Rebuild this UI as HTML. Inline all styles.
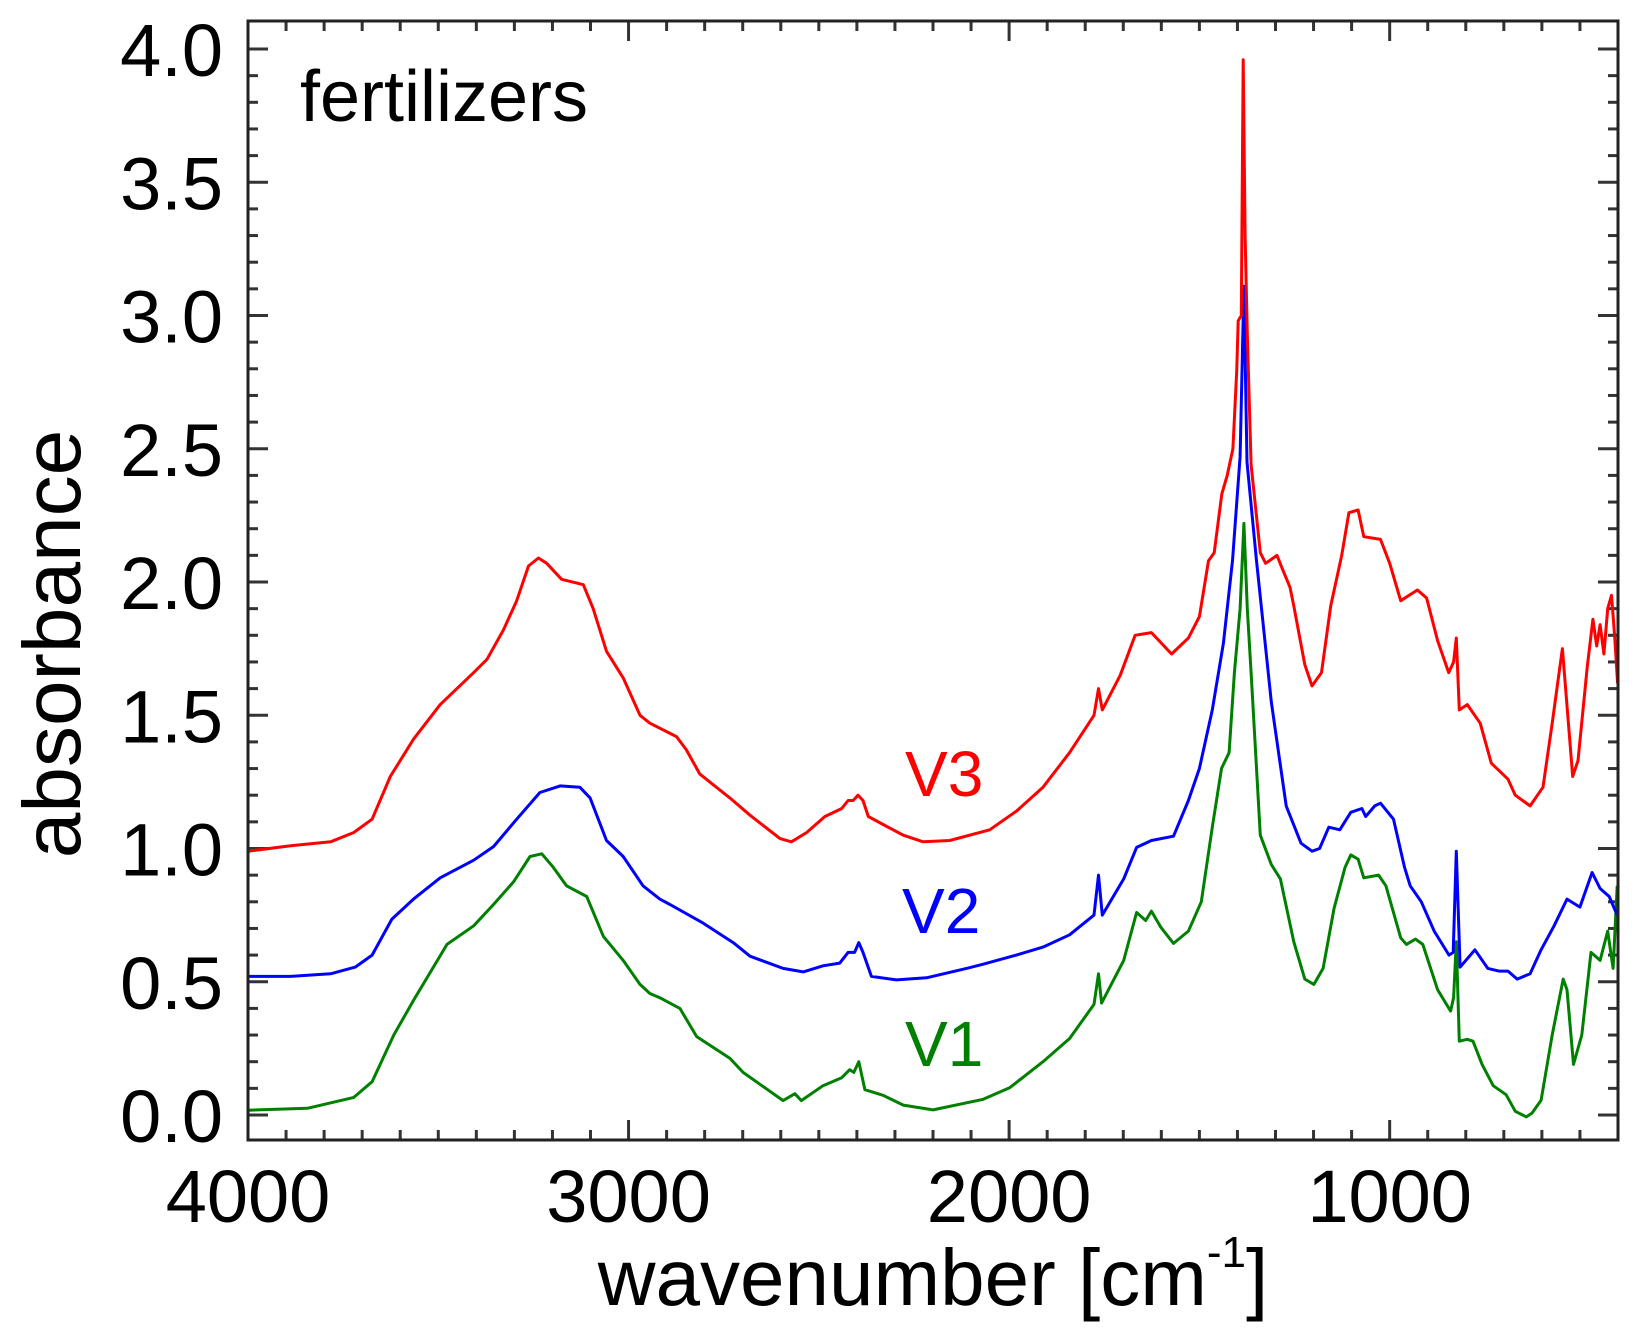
<!DOCTYPE html>
<html><head><meta charset="utf-8"><style>
html,body{margin:0;padding:0;background:#fff;}
svg{display:block;font-family:"Liberation Sans",Arial,sans-serif;}
</style></head><body>
<svg id="chart" width="1642" height="1337" viewBox="0 0 1642 1337">
<g id="grid-layer"></g>
<g id="series-layer"></g>
<rect x="248" y="21" width="1370" height="1119" fill="none" stroke="#222" stroke-width="3"/>
<text x="300" y="121" font-size="72" fill="#000">fertilizers</text>
<text x="905" y="796" font-size="64" fill="#ff0000">V3</text>
<text x="902" y="933" font-size="64" fill="#0000ff">V2</text>
<text x="905" y="1066" font-size="64" fill="#008000">V1</text>
<text x="933" y="1305" font-size="80" text-anchor="middle" fill="#000">wavenumber [cm<tspan dy="-38" font-size="44">-1</tspan><tspan dy="38">]</tspan></text>
<text transform="translate(80,644) rotate(-90)" font-size="82" text-anchor="middle" fill="#000">absorbance</text>
</svg>
<script>
const xTickValues = [4000, 3000, 2000, 1000];
const yTickValues = [0.0, 0.5, 1.0, 1.5, 2.0, 2.5, 3.0, 3.5, 4.0];
const v3Wn = [4000,3888,3783,3722,3674,3626,3565,3495,3407,3372,3329,3294,3263,3237,3215,3176,3119,3093,3058,3014,2970,2944,2874,2848,2813,2734,2681,2602,2572,2532,2484,2440,2423,2410,2397,2384,2370,2331,2278,2226,2156,2051,1981,1911,1841,1777,1765,1755,1708,1669,1626,1573,1529,1500,1476,1461,1441,1427,1412,1402,1398,1390,1385,1380,1374,1364,1340,1326,1296,1282,1262,1252,1223,1204,1179,1155,1126,1107,1083,1068,1024,1000,971,927,903,874,845,832,825,817,796,762,733,689,670,631,597,573,546,519,505,481,466,456,447,437,427,417,409,401];
const v3Abs = [0.99,1.01,1.025,1.06,1.11,1.27,1.41,1.54,1.66,1.71,1.82,1.93,2.06,2.09,2.07,2.01,1.99,1.90,1.74,1.64,1.50,1.47,1.42,1.37,1.28,1.19,1.125,1.037,1.025,1.06,1.12,1.15,1.18,1.18,1.2,1.18,1.12,1.09,1.05,1.025,1.03,1.07,1.14,1.23,1.36,1.50,1.60,1.52,1.65,1.80,1.81,1.73,1.79,1.87,2.08,2.11,2.33,2.40,2.50,2.79,2.98,3.0,3.96,3.3,2.93,2.44,2.11,2.07,2.10,2.05,1.98,1.91,1.69,1.61,1.66,1.91,2.1,2.26,2.27,2.17,2.16,2.07,1.93,1.97,1.94,1.78,1.66,1.70,1.79,1.52,1.54,1.47,1.32,1.26,1.20,1.16,1.23,1.47,1.75,1.27,1.33,1.68,1.86,1.76,1.84,1.73,1.90,1.95,1.80,1.62];
const v2Wn = [4000,3888,3783,3718,3674,3622,3565,3495,3407,3355,3294,3233,3180,3128,3101,3058,3014,2962,2918,2891,2804,2725,2681,2594,2541,2489,2445,2423,2406,2395,2384,2362,2296,2217,2112,2068,1981,1911,1841,1777,1765,1755,1699,1665,1626,1568,1529,1500,1466,1437,1413,1393,1383,1375,1350,1311,1272,1233,1204,1184,1160,1131,1102,1073,1063,1039,1024,990,961,946,917,883,844,833,825,815,776,742,713,689,665,631,602,568,534,500,468,447,423,402];
const v2Abs = [0.52,0.52,0.53,0.555,0.60,0.735,0.81,0.89,0.956,1.007,1.11,1.21,1.235,1.23,1.19,1.03,0.97,0.86,0.81,0.79,0.72,0.647,0.596,0.55,0.537,0.56,0.57,0.61,0.61,0.647,0.61,0.52,0.507,0.515,0.55,0.566,0.60,0.63,0.676,0.75,0.90,0.75,0.886,1.004,1.03,1.046,1.18,1.30,1.52,1.77,2.08,2.47,3.11,2.45,2.08,1.55,1.16,1.02,0.99,1.0,1.08,1.07,1.136,1.15,1.12,1.16,1.17,1.11,0.93,0.86,0.80,0.69,0.60,0.61,0.99,0.555,0.62,0.55,0.54,0.54,0.51,0.53,0.62,0.71,0.81,0.78,0.91,0.85,0.82,0.75];
const v1Wn = [4000,3844,3722,3674,3617,3565,3477,3407,3355,3302,3259,3228,3198,3163,3110,3066,3014,2970,2944,2918,2865,2821,2734,2699,2594,2563,2546,2489,2440,2419,2408,2395,2379,2331,2278,2200,2068,1998,1911,1841,1777,1765,1757,1699,1665,1641,1626,1602,1568,1529,1495,1466,1442,1422,1408,1393,1383,1374,1364,1340,1311,1287,1252,1223,1199,1175,1146,1117,1102,1083,1068,1029,1010,971,956,932,913,874,840,832,825,817,796,781,757,728,694,670,641,626,602,573,544,534,517,495,471,447,427,413,402];
const v1Abs = [0.018,0.025,0.066,0.125,0.30,0.43,0.64,0.71,0.79,0.875,0.97,0.98,0.93,0.86,0.82,0.67,0.58,0.49,0.456,0.44,0.40,0.294,0.213,0.16,0.054,0.08,0.054,0.11,0.14,0.17,0.16,0.2,0.095,0.074,0.037,0.019,0.059,0.103,0.2,0.287,0.415,0.53,0.42,0.58,0.76,0.73,0.765,0.706,0.644,0.69,0.80,1.08,1.30,1.36,1.66,1.90,2.22,1.9,1.66,1.05,0.94,0.886,0.65,0.51,0.49,0.55,0.776,0.93,0.976,0.96,0.89,0.90,0.86,0.665,0.64,0.66,0.64,0.47,0.39,0.44,0.65,0.277,0.284,0.277,0.19,0.11,0.076,0.014,-0.007,0.007,0.055,0.30,0.51,0.47,0.19,0.30,0.61,0.58,0.69,0.55,0.86];

const NS = 'http://www.w3.org/2000/svg';
const L = 248, R = 1618, T = 21, B = 1140;
const WN0 = 4000, WN1 = 400;
const Y0 = 1115, YPER = 266.5;
function xs(w){ return L + (WN0 - w) * (R - L) / (WN0 - WN1); }
function ys(a){ return Y0 - a * YPER; }

const grid = document.getElementById('grid-layer');
function line(x1,y1,x2,y2,w){
  const l = document.createElementNS(NS,'line');
  l.setAttribute('x1',x1); l.setAttribute('y1',y1); l.setAttribute('x2',x2); l.setAttribute('y2',y2);
  l.setAttribute('stroke','#333'); l.setAttribute('stroke-width',w);
  
  
  grid.appendChild(l);
}
for (let w = 3900; w > WN1; w -= 100) {
  const major = w % 1000 === 0;
  const len = major ? 20 : 10;
  line(xs(w), B, xs(w), B - len, 3);
  line(xs(w), T, xs(w), T + len, 3);
}
for (let k = 0; k <= 43; k++) {
  const a = k / 10;
  const major = k % 5 === 0;
  const len = major ? 20 : 10;
  if (ys(a) < T + 2) continue;
  line(L, ys(a), L + len, ys(a), 3);
  line(R, ys(a), R - len, ys(a), 3);
}
const svg = document.getElementById('chart');
xTickValues.forEach(v => {
  const t = document.createElementNS(NS,'text');
  t.setAttribute('x', xs(v)); t.setAttribute('y', 1222);
  t.setAttribute('text-anchor','middle'); t.setAttribute('font-size','74');
  t.textContent = String(v);
  
  
  svg.appendChild(t);
});
yTickValues.forEach(v => {
  const t = document.createElementNS(NS,'text');
  t.setAttribute('x', 223); t.setAttribute('y', ys(v) + 27);
  t.setAttribute('text-anchor','end'); t.setAttribute('font-size','74');
  t.textContent = v.toFixed(1);
  
  
  svg.appendChild(t);
});
const layer = document.getElementById('series-layer');
function drawSeries(wn, ab, color, name){
  const p = document.createElementNS(NS,'polyline');
  p.setAttribute('points', wn.map((w,i) => xs(w).toFixed(1) + ',' + ys(ab[i]).toFixed(1)).join(' '));
  p.setAttribute('fill','none'); p.setAttribute('stroke',color);
  p.setAttribute('stroke-width','3'); p.setAttribute('stroke-linejoin','round');
  
  
  layer.appendChild(p);
}
drawSeries(v1Wn, v1Abs, '#008000', 'series-v1');
drawSeries(v2Wn, v2Abs, '#0000ff', 'series-v2');
drawSeries(v3Wn, v3Abs, '#ff0000', 'series-v3');
</script>
</body></html>
